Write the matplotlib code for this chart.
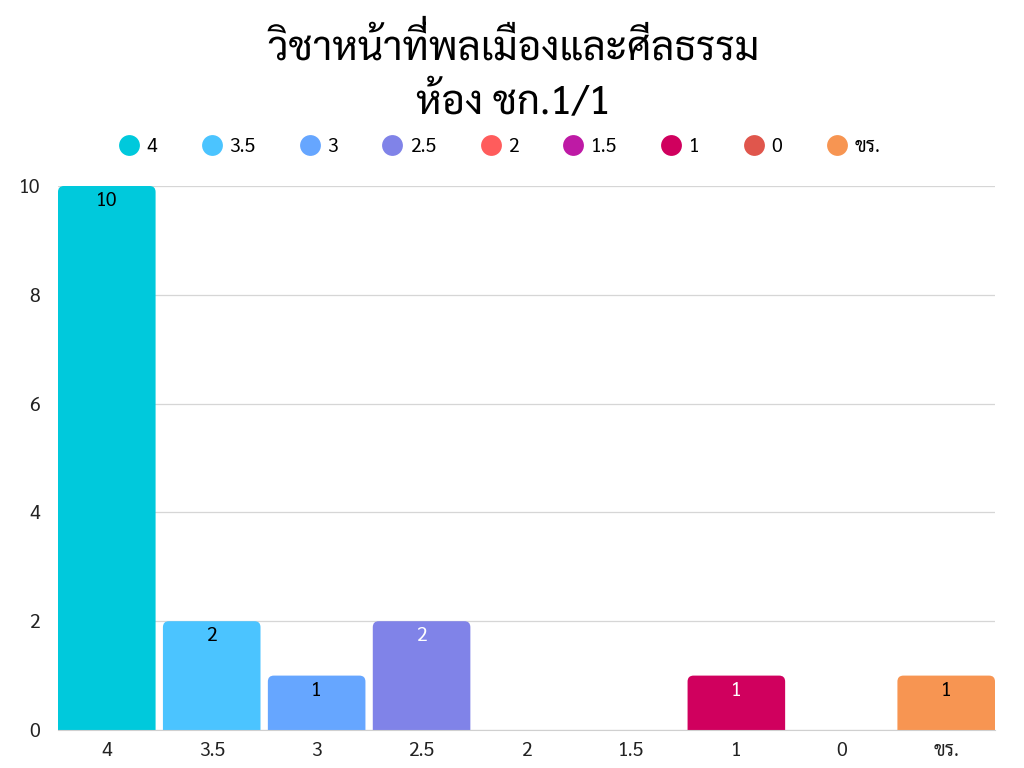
import matplotlib
matplotlib.use('Agg')
import matplotlib.pyplot as plt
from matplotlib import font_manager
from matplotlib.ft2font import FT2Font
from matplotlib.path import Path
from matplotlib.patches import PathPatch
from matplotlib.lines import Line2D
from matplotlib.textpath import TextPath
from matplotlib.font_manager import FontProperties
from matplotlib.transforms import IdentityTransform, Affine2D

# ข้อมูล
categories = ['4', '3.5', '3', '2.5', '2', '1.5', '1', '0', 'ขร.']
counts = [10, 2, 1, 2, 0, 0, 1, 0, 1]
colors = ['#00C9DC', '#4BC4FF', '#66A6FF', '#8083E8', '#FF5C5C',
          '#BE1AA5', '#D0005E', '#E0564C', '#F79552']
label_colors = ['black', 'black', 'black', 'white', 'black',
                'black', 'white', 'black', 'black']
title_lines = ['วิชาหน้าที่พลเมืองและศีลธรรม', 'ห้อง ชก.1/1']
yticks = [0, 2, 4, 6, 8, 10]


# หาฟอนต์ที่มีอักษรไทย
def find_thai_font():
    prefer = ['Sarabun', 'Kanit', 'Prompt', 'Noto Sans Thai', 'Noto Sans Thai Looped',
              'Loma', 'Garuda', 'Norasi', 'Tlwg', 'Waree', 'Umpush', 'Laksaman']
    found = {}
    for f in font_manager.fontManager.ttflist:
        try:
            cmap = FT2Font(f.fname).get_charmap()
        except Exception:
            continue
        if ord('ว') in cmap and ord('ข') in cmap:
            found.setdefault(f.name, f.fname)
    for p in prefer:
        for n in found:
            if n.startswith(p):
                return n
    return next(iter(found), None)


thai = find_thai_font()
families = ([thai] if thai else []) + ['DejaVu Sans']
plt.rcParams['font.family'] = families
fp = FontProperties(family=families)


# matplotlib ไม่จัดวรรณยุกต์ซ้อนสระบน ต้องยกไม้เอกขึ้นเอง
def thai_path(s, size):
    full = TextPath((0, 0), s, size=size, prop=fp)
    verts = full.vertices.copy()
    i = s.find('ี่')
    while i >= 0:
        n1 = len(TextPath((0, 0), s[:i + 1], size=size, prop=fp).vertices)
        n2 = len(TextPath((0, 0), s[:i + 2], size=size, prop=fp).vertices)
        verts[n1:n2, 1] += 0.2 * size
        i = s.find('ี่', i + 2)
    return Path(verts, full.codes)


fig = plt.figure(figsize=(10.24, 7.68), dpi=100)
ax = fig.add_axes([58 / 1024, 38 / 768, 937 / 1024, 544 / 768])

w = 0.93
x = list(range(len(categories)))
bars = ax.bar(x, counts, width=w, color=colors)
ax.set_xlim(-w / 2, len(categories) - 1 + w / 2)
ax.set_ylim(0, 10)
ax.set_yticks(yticks)
ax.set_xticks(x)
ax.set_xticklabels(categories)
ax.tick_params(axis='both', length=0, labelsize=14, colors='#222222')
ax.tick_params(axis='x', pad=9)
ax.tick_params(axis='y', pad=13)
for s in ['top', 'right', 'left']:
    ax.spines[s].set_visible(False)
ax.spines['bottom'].set_color('#D0D0D0')
ax.yaxis.grid(True, color='#D6D6D6', lw=0.9)
ax.set_axisbelow(True)

# มุมบนโค้งของแท่ง
r = 6
for b in bars:
    b.set_visible(False)
    if b.get_height() <= 0:
        continue
    (x0, y0), (x1, y1) = ax.transData.transform(
        [(b.get_x(), 0), (b.get_x() + b.get_width(), b.get_height())])
    verts = [(x0, y0), (x0, y1 - r), (x0, y1), (x0 + r, y1),
             (x1 - r, y1), (x1, y1), (x1, y1 - r), (x1, y0), (x0, y0)]
    codes = [Path.MOVETO, Path.LINETO, Path.CURVE3, Path.CURVE3,
             Path.LINETO, Path.CURVE3, Path.CURVE3, Path.LINETO, Path.CLOSEPOLY]
    p = PathPatch(Path(verts, codes), facecolor=b.get_facecolor(), edgecolor='none',
                  zorder=2, clip_on=False)
    p.set_transform(IdentityTransform())
    ax.add_artist(p)

for b, c, lc in zip(bars, counts, label_colors):
    if c:
        ax.annotate(str(c), xy=(b.get_x() + b.get_width() / 2, c), xytext=(0, -15),
                    textcoords='offset pixels', ha='center', va='center',
                    fontsize=14, color=lc, zorder=5)

# ชื่อกราฟ
for line, base in zip(title_lines, [60, 114]):
    tp = thai_path(line, 40)
    ext = tp.get_extents()
    tr = Affine2D().translate(512 - (ext.x0 + ext.x1) / 2, 768 - base)
    fig.add_artist(PathPatch(tp, facecolor='black', edgecolor='none', transform=tr))

handles = [Line2D([], [], marker='o', linestyle='none', markersize=15,
                  markerfacecolor=c, markeredgecolor='none') for c in colors]
fig.legend(handles, categories, loc='center', bbox_to_anchor=(0.487, 1 - 147 / 768),
           ncol=len(categories), frameon=False, fontsize=14, handletextpad=0.3,
           columnspacing=2.2, handlelength=1.2)

fig.savefig('out.png', dpi=100)
